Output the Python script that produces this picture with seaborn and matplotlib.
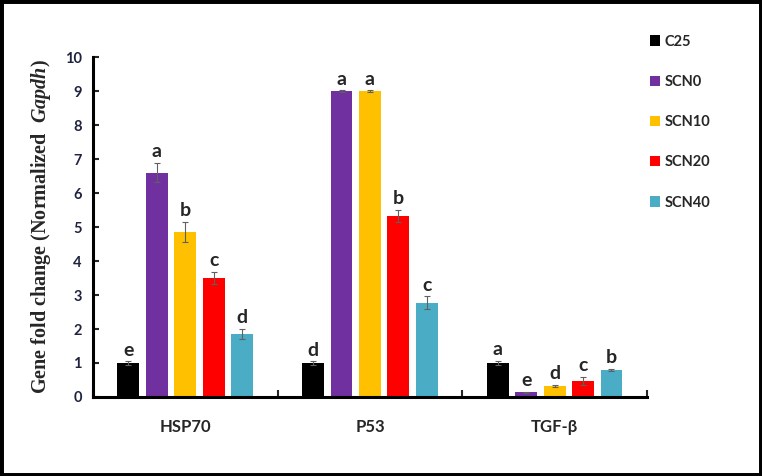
import numpy as np
import pandas as pd
import matplotlib
matplotlib.use("Agg")
import matplotlib.pyplot as plt
import seaborn as sns
from matplotlib.patches import Rectangle

# values
genes = ["HSP70", "P53", "TGF-β"]
groups = ["C25", "SCN0", "SCN10", "SCN20", "SCN40"]
colors = ["#000000", "#7030A0", "#FFC000", "#FF0000", "#4BACC6"]

c25 = [1.0, 1.0, 1.0]
scn0 = [6.6, 9.0, 0.14]
scn10 = [4.86, 9.0, 0.32]
scn20 = [3.5, 5.32, 0.47]
scn40 = [1.86, 2.78, 0.79]

c25_err = [0.05, 0.05, 0.06]
scn0_err = [0.28, 0.02, 0.01]
scn10_err = [0.3, 0.02, 0.03]
scn20_err = [0.18, 0.18, 0.13]
scn40_err = [0.15, 0.18, 0.03]

c25_sig = ["e", "d", "a"]
scn0_sig = ["a", "a", "e"]
scn10_sig = ["b", "a", "d"]
scn20_sig = ["c", "b", "c"]
scn40_sig = ["d", "c", "b"]

values = [c25, scn0, scn10, scn20, scn40]
errors = [c25_err, scn0_err, scn10_err, scn20_err, scn40_err]
letters = [c25_sig, scn0_sig, scn10_sig, scn20_sig, scn40_sig]

df = pd.DataFrame({
    "gene": np.tile(genes, len(groups)),
    "group": np.repeat(groups, len(genes)),
    "value": np.concatenate(values),
})

sns.set_style("white")
plt.rcParams["font.family"] = ["Lato", "DejaVu Sans"]
plt.rcParams["mathtext.fontset"] = "custom"
plt.rcParams["mathtext.it"] = "Liberation Serif:italic:bold"
plt.rcParams["mathtext.rm"] = "Liberation Serif:bold"

fig = plt.figure(figsize=(7.62, 4.76), dpi=100)
ax = fig.add_axes([0.122, 0.166, 0.727, 0.714])

sns.barplot(data=df, x="gene", y="value", hue="group", order=genes,
            hue_order=groups, palette=colors, saturation=1, width=0.77,
            gap=0.23, errorbar=None, linewidth=0, ax=ax)

# error bars and significance letters
bar_sets = list(ax.containers)
for i, cont in enumerate(bar_sets):
    xs = [p.get_x() + p.get_width() / 2 for p in cont.patches]
    ax.errorbar(xs, values[i], yerr=errors[i], fmt="none", ecolor="#606060",
                elinewidth=0.8, capsize=2.5, capthick=0.8)
    for x, v, e, s in zip(xs, values[i], errors[i], letters[i]):
        ax.annotate(s, (x, v + e), xytext=(0, 2), textcoords="offset points",
                    ha="center", va="bottom", fontsize=14, fontweight="bold")

handles, labels = ax.get_legend_handles_labels()
ax.legend_.remove()
fig.legend(handles, labels, loc="upper left", bbox_to_anchor=(0.836, 0.955),
           frameon=False, handlelength=0.7, handleheight=0.7,
           handletextpad=0.3, labelspacing=1.8,
           prop={"family": "Lato", "weight": "bold", "size": 10.5})

ax.set_ylim(0, 10)
ax.set_xlim(-0.5, 2.5)
ax.set_yticks(range(0, 11))
ax.set_yticklabels([str(t) for t in range(0, 11)], fontweight="bold",
                   fontsize=10.5, color="#1f2340")
ax.tick_params(axis="y", direction="in", length=4, width=1.5, pad=8, left=True)
ax.tick_params(axis="x", which="major", length=0, pad=16, labelsize=12)
ax.set_xticks([-0.5, 0.5, 1.5, 2.5], minor=True)
ax.tick_params(axis="x", which="minor", direction="in", length=5, width=1.5,
               bottom=True)
for lab in ax.get_xticklabels():
    lab.set_fontweight("bold")

ax.set_xlabel("")
ax.set_ylabel(r"Gene fold change (Normalized  $\it{Gapdh}$)",
              family="Liberation Serif", fontweight="bold", fontsize=14.5)
ax.yaxis.set_label_coords(-0.072, 0.5)

for side in ["top", "right"]:
    ax.spines[side].set_visible(False)
for side in ["left", "bottom"]:
    ax.spines[side].set_linewidth(2.2)
    ax.spines[side].set_color("black")

# outer frame of the figure
fig.patches.append(Rectangle((0, 0), 1, 1, transform=fig.transFigure,
                             fill=False, edgecolor="black", linewidth=5))

fig.savefig("out.png", dpi=100)
